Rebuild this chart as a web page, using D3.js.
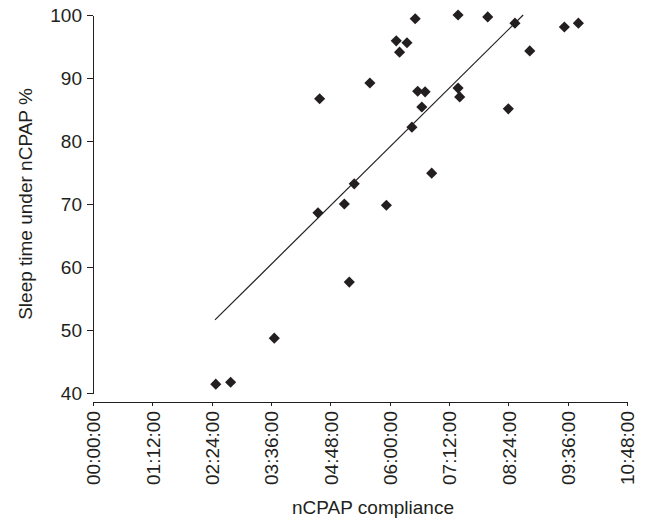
<!DOCTYPE html>
<meta charset="utf-8">
<title>nCPAP compliance</title>
<style>
body {
  margin: 0;
  background: #fff;
  font-family: 'Liberation Sans', Arial, sans-serif;
}
.axis .domain,
.axis .tick line {
  stroke: #231f20;
  stroke-width: 1.2;
  shape-rendering: crispEdges;
}
.axis .tick text {
  font-family: 'Liberation Sans', Arial, sans-serif;
  font-size: 19px;
  fill: #231f20;
}
.title {
  font-size: 19px;
  fill: #231f20;
}
</style>
<body>
<svg width="647" height="522"></svg>
<script src="https://d3js.org/d3.v7.min.js"></script>
<script>
// compliance per patient (hh:mm) and sleep time under nCPAP (%)
var compliance = ["02:29","02:47","03:40","04:33","04:35","05:05","05:11","05:17","05:36","05:56",
                  "06:08","06:12","06:21","06:31","06:27","06:34","06:43","06:39","06:51","07:23",
                  "07:25","07:59","08:24","08:32","08:50","09:32","09:49","07:23"];
var sleepPct   = [41.4, 41.7, 48.7, 68.6, 86.7, 70.0, 57.6, 73.2, 89.2, 69.8,
                  95.9, 94.1, 95.6, 99.4, 82.2, 87.9, 87.8, 85.4, 74.9, 100.0,
                  87.0, 99.7, 85.1, 98.7, 94.3, 98.1, 98.7, 88.4];

// linear trend line ends
var trendX = ["02:28", "08:42"];
var trendY = [51.6, 100];

var yTicks = [40, 50, 60, 70, 80, 90, 100];
var xTicks = [0, 72, 144, 216, 288, 360, 432, 504, 576, 648]; // minutes

function toMin(s) {
  var p = s.split(":");
  return +p[0] * 60 + +p[1];
}
function fmt(m) {
  var h = Math.floor(m / 60), mm = m % 60;
  return d3.format("02d")(h) + ":" + d3.format("02d")(mm) + ":00";
}

var data = compliance.map(function(c, i) { return {x: toMin(c), y: sleepPct[i]}; });

var svg = d3.select("svg");

var x = d3.scaleLinear().domain([0, 648]).range([93, 627]);
var y = d3.scaleLinear().domain([40, 100]).range([393, 15]);

// y axis
svg.append("g")
    .attr("class", "axis")
    .attr("transform", "translate(93,0)")
    .call(d3.axisLeft(y).tickValues(yTicks).tickSize(6).tickSizeOuter(0).tickPadding(5))
  .selectAll(".tick text")
    .attr("dy", "0.36em");

// x axis
var gx = svg.append("g")
    .attr("class", "axis")
    .attr("transform", "translate(0,402)")
    .call(d3.axisBottom(x).tickValues(xTicks).tickFormat(fmt).tickSize(4).tickSizeOuter(0));

gx.selectAll(".tick text")
    .attr("transform", "rotate(-90)")
    .attr("text-anchor", "end")
    .attr("x", -9)
    .attr("y", 0)
    .attr("dy", "0.36em");

// trend line
var line = d3.line()
    .x(function(d) { return x(d[0]); })
    .y(function(d) { return y(d[1]); });

svg.append("path")
    .datum(trendX.map(function(t, i) { return [toMin(t), trendY[i]]; }))
    .attr("d", line)
    .attr("fill", "none")
    .attr("stroke", "#231f20")
    .attr("stroke-width", 1.2);

// diamonds
svg.append("g")
  .selectAll("path")
  .data(data)
  .enter().append("path")
    .attr("d", d3.symbol().type(d3.symbolSquare).size(62))
    .attr("transform", function(d) { return "translate(" + x(d.x) + "," + y(d.y) + ") rotate(45)"; })
    .attr("fill", "#231f20");

// titles
svg.append("text")
    .attr("class", "title")
    .attr("transform", "translate(32,204) rotate(-90)")
    .attr("text-anchor", "middle")
    .text("Sleep time under nCPAP %");

svg.append("text")
    .attr("class", "title")
    .attr("x", 373)
    .attr("y", 514)
    .attr("text-anchor", "middle")
    .text("nCPAP compliance");
</script>
</body>
